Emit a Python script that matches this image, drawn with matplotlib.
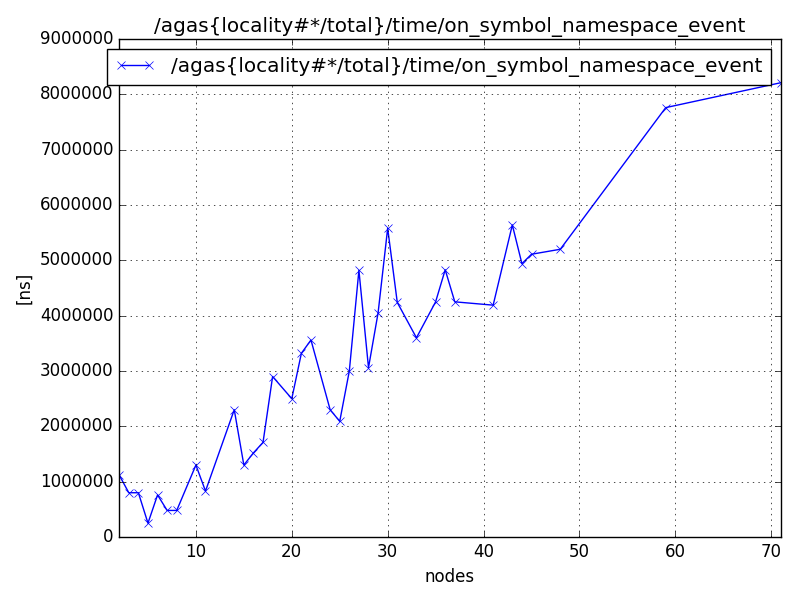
import matplotlib
matplotlib.use('Agg')
import matplotlib.pyplot as plt

plt.style.use('classic')

name = '/agas{locality#*/total}/time/on_symbol_namespace_event'
# nodes vs. time in ns
nodes = [2, 3, 4, 5, 6, 7, 8, 10, 11, 14, 15, 16, 17, 18, 20, 21, 22, 24, 25, 26,
         27, 28, 29, 30, 31, 33, 35, 36, 37, 41, 43, 44, 45, 48, 59, 71]
times = [1120000, 800000, 800000, 250000, 760000, 480000, 480000, 1300000, 830000,
         2300000, 1300000, 1520000, 1710000, 2900000, 2500000, 3320000, 3560000,
         2300000, 2090000, 3000000, 4820000, 3060000, 4050000, 5580000, 4240000,
         3600000, 4250000, 4830000, 4250000, 4190000, 5640000, 4940000, 5110000,
         5200000, 7760000, 8210000]

fig = plt.figure(figsize=(8, 6), dpi=100)
ax = fig.add_subplot(111)
ax.plot(nodes, times, 'bx-', label=name)

ax.set_title(name)
ax.set_xlabel('nodes')
ax.set_ylabel('[ns]')
ax.set_xlim(2, 71)
ax.set_ylim(0, 9000000)
ax.grid(True)
ax.legend(loc='upper right')

fig.subplots_adjust(left=0.149, right=0.976, top=0.935, bottom=0.105)
fig.savefig('out.png', dpi=100)
